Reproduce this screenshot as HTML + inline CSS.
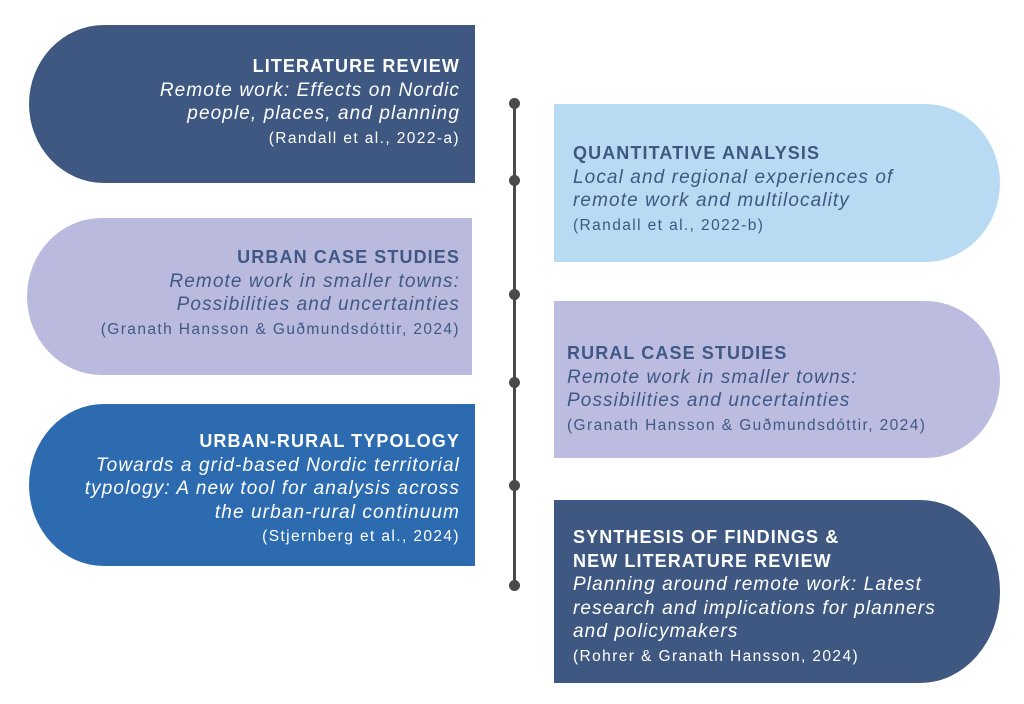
<!DOCTYPE html>
<html><head><style>
body{margin:0;width:1024px;height:704px;background:#fff;position:relative;overflow:hidden;font-family:"Liberation Sans",sans-serif}
.b{position:absolute}
.t{position:absolute;line-height:23.5px;font-size:19px;white-space:nowrap}
.t b{font-weight:bold;font-size:18px;letter-spacing:1.1px}
.t i{font-style:italic;letter-spacing:1.1px}
.t span{font-size:15.5px;letter-spacing:1.4px}
.L{text-align:right}
.dot{position:absolute;width:11px;height:11px;border-radius:50%;background:#4a4a4a;left:509px}
</style></head><body>
<div class="b" style="left:29px;top:25px;width:446px;height:158px;background:#3e5882;border-radius:75px 0 0 75px/79px 0 0 79px"></div>
<div class="b" style="left:27px;top:218px;width:445px;height:157px;background:#babade;border-radius:75px 0 0 75px/79px 0 0 79px"></div>
<div class="b" style="left:29px;top:404px;width:446px;height:162px;background:#2d6bb1;border-radius:75px 0 0 75px/81px 0 0 81px"></div>
<div class="b" style="left:554px;top:104px;width:446px;height:158px;background:#b8daf2;border-radius:0 75px 75px 0/0 79px 79px 0"></div>
<div class="b" style="left:554px;top:301px;width:446px;height:157px;background:#bcbce0;border-radius:0 75px 75px 0/0 79px 79px 0"></div>
<div class="b" style="left:554px;top:500px;width:446px;height:183px;background:#3e5882;border-radius:0 80px 80px 0/0 91px 91px 0"></div>

<div class="b" style="left:513px;top:103px;width:3px;height:482px;background:#4a4a4a"></div>
<div class="dot" style="top:98px"></div><div class="dot" style="top:175px"></div><div class="dot" style="top:289px"></div>
<div class="dot" style="top:377px"></div><div class="dot" style="top:480px"></div><div class="dot" style="top:580px"></div>

<div class="t L" style="right:564px;top:55px;color:#fff"><b>LITERATURE REVIEW</b><br><i>Remote work: Effects on Nordic<br>people, places, and planning</i><br><span>(Randall et al., 2022-a)</span></div>
<div class="t L" style="right:564px;top:246px;color:#3f5886"><b>URBAN CASE STUDIES</b><br><i>Remote work in smaller towns:<br>Possibilities and uncertainties</i><br><span>(Granath Hansson &amp; Guðmundsdóttir, 2024)</span></div>
<div class="t L" style="right:564px;top:430px;color:#fff"><b>URBAN-RURAL TYPOLOGY</b><br><i>Towards a grid-based Nordic territorial<br>typology: A new tool for analysis across<br>the urban-rural continuum</i><br><span>(Stjernberg et al., 2024)</span></div>
<div class="t" style="left:573px;top:142px;color:#3e5882"><b>QUANTITATIVE ANALYSIS</b><br><i>Local and regional experiences of<br>remote work and multilocality</i><br><span>(Randall et al., 2022-b)</span></div>
<div class="t" style="left:567px;top:342px;color:#3f5886"><b>RURAL CASE STUDIES</b><br><i>Remote work in smaller towns:<br>Possibilities and uncertainties</i><br><span>(Granath Hansson &amp; Guðmundsdóttir, 2024)</span></div>
<div class="t" style="left:573px;top:526px;color:#fff"><b>SYNTHESIS OF FINDINGS &amp;<br>NEW LITERATURE REVIEW</b><br><i>Planning around remote work: Latest<br>research and implications for planners<br>and policymakers</i><br><span>(Rohrer &amp; Granath Hansson, 2024)</span></div>
</body></html>
